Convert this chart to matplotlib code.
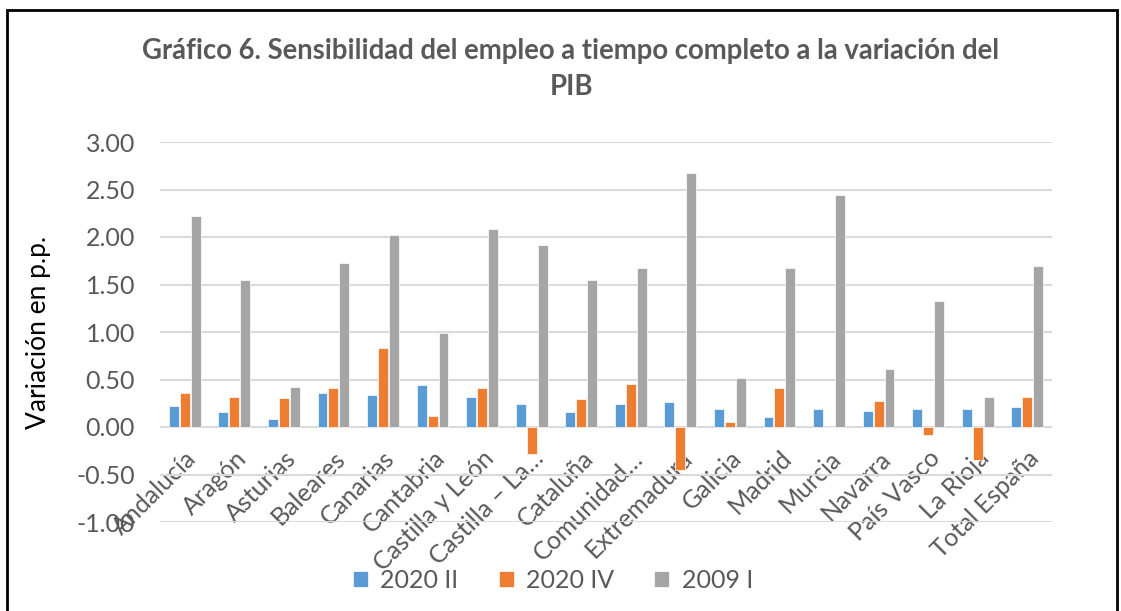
import matplotlib
matplotlib.use("Agg")
import matplotlib.pyplot as plt
from matplotlib.patches import Rectangle
import numpy as np

plt.rcParams["font.family"] = ["Lato", "DejaVu Sans"]

# ---------------------------- datos ---------------------------- #
regiones = [
    "Andalucía", "Aragón", "Asturias", "Baleares", "Canarias", "Cantabria",
    "Castilla y León", "Castilla – La…", "Cataluña", "Comunidad…",
    "Extremadura", "Galicia", "Madrid", "Murcia", "Navarra", "País Vasco",
    "La Rioja", "Total España",
]
s_2020_ii = [0.22, 0.155, 0.085, 0.355, 0.34, 0.44, 0.32, 0.24, 0.155, 0.24,
             0.26, 0.19, 0.105, 0.19, 0.17, 0.19, 0.19, 0.21]
s_2020_iv = [0.355, 0.32, 0.305, 0.41, 0.83, 0.12, 0.41, -0.28, 0.29, 0.455,
             -0.45, 0.053, 0.41, 0.0, 0.27, -0.08, -0.35, 0.32]
s_2009_i = [2.22, 1.55, 0.42, 1.73, 2.02, 0.99, 2.08, 1.915, 1.55, 1.67,
            2.67, 0.52, 1.67, 2.44, 0.61, 1.33, 0.32, 1.70]
series = ["2020 II", "2020 IV", "2009 I"]
colores = ["#5B9BD5", "#ED7D31", "#A5A5A5"]

TXT = "#595959"
W, H = 1121, 611

fig = plt.figure(figsize=(W / 100, H / 100), dpi=100)
ax = fig.add_axes([160 / W, 1 - 522 / H, (1052 - 160) / W, (522 - 142) / H])

x = np.arange(len(regiones))
bw = 0.2
offs = [-0.22, 0.0, 0.22]
for vals, off, col, lab in zip([s_2020_ii, s_2020_iv, s_2009_i], offs, colores, series):
    ax.bar(x + off, vals, width=bw, color=col, label=lab,
           edgecolor="white", linewidth=0.5, zorder=3)

ax.set_xlim(-0.5, len(regiones) - 0.5)
ax.set_ylim(-1.0, 3.0)
ax.set_yticks(np.arange(-1.0, 3.01, 0.5))
ax.set_yticklabels([f"{v:.2f}" for v in np.arange(-1.0, 3.01, 0.5)])
ax.grid(axis="y", color="#D9D9D9", linewidth=1.5, zorder=0)
for s in ax.spines.values():
    s.set_visible(False)
ax.spines["bottom"].set_position(("data", 0))

ax.tick_params(axis="y", length=0, pad=18, labelsize=18, labelcolor=TXT)
ax.tick_params(axis="x", length=0, pad=14, labelsize=18, labelcolor=TXT)
ax.set_xticks(x)
ax.set_xticklabels(regiones, rotation=45, ha="right", va="top",
                   rotation_mode="anchor")

ax.set_ylabel("Variación en p.p.", fontsize=19, color="black", labelpad=18)

fig.text(571 / W, 1 - 69 / H,
         "Gráfico 6. Sensibilidad del empleo a tiempo completo a la variación del\nPIB",
         ha="center", va="center", fontsize=19.8, fontweight="bold", color=TXT,
         linespacing=1.5)

fig.legend(loc="center", bbox_to_anchor=(553 / W, 1 - 580 / H), ncol=3,
           frameon=False, fontsize=18, labelcolor=TXT, handlelength=0.6,
           handleheight=0.6, columnspacing=1.6, handletextpad=0.5)

# marco del gráfico
fig.patches.append(Rectangle((7 / W, -0.05), (1117 - 7) / W, 1 - 10 / H + 0.05,
                             transform=fig.transFigure, fill=False,
                             edgecolor="black", linewidth=2))

fig.savefig("out.png", dpi=100)
